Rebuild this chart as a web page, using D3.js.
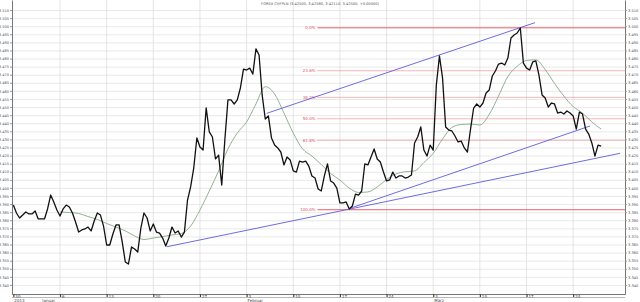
<!DOCTYPE html>
<html>
<head>
  <meta charset="utf-8"/>
  <title>FOREX CHFPLN</title>
  <script src="https://d3js.org/d3.v7.min.js"></script>
  <style>
    html, body {
      margin: 0;
      padding: 0;
      background: #fff;
      overflow: hidden;
    }
    svg {
      display: block;
      font-family: "DejaVu Sans", sans-serif;
    }
  </style>
</head>
<body>
  <div id="chart"></div>

  <script>
    const title = "FOREX CHFPLN (3.42500, 3.42580, 3.42110, 3.42500, +0.00000)";

    // x runs in trading days from Mon 30 Dec 2013 (day 0), 3 bars per day
    const barsPerDay = 3;
    const prices = [
      3.3894, 3.3845, 3.3814, 3.3832, 3.3851, 3.3839, 3.3839, 3.3857, 3.3808, 3.3808,
      3.3808, 3.3870, 3.3956, 3.3913, 3.3863, 3.3826, 3.3870, 3.3894, 3.3882, 3.3845,
      3.3789, 3.3727, 3.3740, 3.3746, 3.3758, 3.3734, 3.3795, 3.3845, 3.3832, 3.3764,
      3.3647, 3.3647, 3.3715, 3.3771, 3.3771, 3.3666, 3.3542, 3.3529, 3.3635, 3.3622,
      3.3604, 3.3752, 3.3845, 3.3814, 3.3734, 3.3777, 3.3727, 3.3721, 3.3690, 3.3641,
      3.3690, 3.3758, 3.3721, 3.3734, 3.3696, 3.3727, 3.3925, 3.4006, 3.4123, 3.4309,
      3.4253, 3.4234, 3.4495, 3.4346, 3.4315, 3.4179, 3.4203, 3.4018, 3.4296, 3.4544,
      3.4544, 3.4519, 3.4544, 3.4618, 3.4735, 3.4729, 3.4741, 3.4704, 3.4860, 3.4822,
      3.4575, 3.4426, 3.4445, 3.4309, 3.4265, 3.4247, 3.4222, 3.4142, 3.4191, 3.4173,
      3.4105, 3.4098, 3.4166, 3.4160, 3.4166, 3.4135, 3.4074, 3.4061, 3.3993, 3.3981,
      3.4074, 3.4148, 3.4043, 3.4030, 3.3999, 3.3907, 3.3907, 3.3913, 3.3870, 3.3888,
      3.3962, 3.3956, 3.3981, 3.4148, 3.4142, 3.4191, 3.4241, 3.4179, 3.4160, 3.4098,
      3.4043, 3.4049, 3.4098, 3.4061, 3.4074, 3.4074, 3.4061, 3.4067, 3.4080, 3.4278,
      3.4315, 3.4377, 3.4234, 3.4197, 3.4265, 3.4234, 3.4636, 3.4816, 3.4680, 3.4377,
      3.4358, 3.4352, 3.4321, 3.4284, 3.4290, 3.4247, 3.4222, 3.4364, 3.4494, 3.4519,
      3.4500, 3.4525, 3.4587, 3.4605, 3.4692, 3.4723, 3.4766, 3.4772, 3.4760, 3.4803,
      3.4927, 3.4946, 3.4958, 3.4989, 3.4772, 3.4741, 3.4729, 3.4779, 3.4785, 3.4698,
      3.4575, 3.4556, 3.4500, 3.4525, 3.4519, 3.4463, 3.4469, 3.4457, 3.4476, 3.4463,
      3.4445, 3.4364, 3.4469, 3.4457, 3.4364, 3.4333, 3.4278, 3.4197, 3.4265, 3.4259
    ];

    // moving average, one value per trading day starting at day 5
    const maStart = 5;
    const maValues = [
      3.3851, 3.3848, 3.3842, 3.3823, 3.3805, 3.3780, 3.3758, 3.3734, 3.3703, 3.3681,
      3.3690, 3.3699, 3.3709, 3.3718, 3.3764, 3.3863, 3.3981, 3.4105, 3.4241, 3.4339,
      3.4408, 3.4519, 3.4626, 3.4581, 3.4463, 3.4339, 3.4241, 3.4197, 3.4145, 3.4089,
      3.4049, 3.3999, 3.3972, 3.3975, 3.4006, 3.4052, 3.4086, 3.4100, 3.4105, 3.4157,
      3.4214, 3.4302, 3.4374, 3.4392, 3.4395, 3.4389, 3.4454, 3.4568, 3.4689, 3.4752,
      3.4788, 3.4792, 3.4732, 3.4646, 3.4568, 3.4503, 3.4463, 3.4408, 3.4364
    ];

    // trend lines (day, price) -> (day, price)
    const trendLines = [
      { d1: 16.44, p1: 3.3636, d2: 65.02, p2: 3.4214 },
      { d1: 36.08, p1: 3.3874, d2: 61.81, p2: 3.4383 },
      { d1: 27.15, p1: 3.4461, d2: 55.91, p2: 3.5022 }
    ];

    // fibonacci retracement
    const fibHigh = 3.4990;
    const fibLow = 3.3865;
    const fibStartDay = 32.6;
    const fibLevels = [0, 0.236, 0.382, 0.5, 0.618, 1];
    const fibLabels = ["0.0%", "23.6%", "38.2%", "50.0%", "61.8%", "100.0%"];

    // axes
    const weekTicks = [0, 5, 10, 15, 20, 25, 30, 35, 40, 45, 50, 55, 60];
    const weekLabels = ["30", "6", "13", "20", "27", "3", "10", "17", "24", "3", "10", "17", "24"];
    const monthTicks = [0, 3, 25, 45];
    const monthLabels = ["2013", "Januar", "Februar", "März"];
    const yTicks = d3.range(3.340, 3.5101, 0.005);

    const width = 640, height = 302;
    const plot = { left: 12, right: 625, top: 0, bottom: 294 };

    const svg = d3.select("#chart").append("svg")
      .attr("width", width)
      .attr("height", height);

    const x = d3.scaleLinear().domain([-0.145, 65.555]).range([plot.left, plot.right]);
    const y = d3.scaleLinear().domain([3.3344, 3.5162]).range([plot.bottom, plot.top]);

    // grid
    svg.append("g").selectAll("line")
      .data(yTicks)
      .enter().append("line")
      .attr("x1", plot.left).attr("x2", plot.right)
      .attr("y1", d => y(d) + 0.5).attr("y2", d => y(d) + 0.5)
      .attr("stroke", "#e3e3e3")
      .attr("stroke-width", 0.8);

    svg.append("g").selectAll("line")
      .data(weekTicks.slice(1))
      .enter().append("line")
      .attr("x1", d => x(d)).attr("x2", d => x(d))
      .attr("y1", plot.top).attr("y2", plot.bottom)
      .attr("stroke", "#dedede")
      .attr("stroke-width", 0.8);

    // title
    svg.append("text")
      .attr("x", 320).attr("y", 5)
      .attr("text-anchor", "middle")
      .attr("font-size", 3.6)
      .attr("fill", "#555")
      .text(title);

    // y axes on both sides
    const fmt = d3.format(".3f");
    const leftAxis = svg.append("g")
      .attr("transform", `translate(${plot.left},0)`)
      .call(d3.axisLeft(y).tickValues(yTicks).tickSize(2).tickSizeOuter(0).tickPadding(1).tickFormat(fmt));
    const rightAxis = svg.append("g")
      .attr("transform", `translate(${plot.right},0)`)
      .call(d3.axisRight(y).tickValues(yTicks).tickSize(2).tickSizeOuter(0).tickPadding(1).tickFormat(fmt));
    [leftAxis, rightAxis].forEach(g => {
      g.attr("font-size", 3.6).attr("font-family", null);
      g.select(".domain").attr("stroke", "#777").attr("stroke-width", 1);
      g.selectAll(".tick line").attr("stroke", "#999");
      g.selectAll(".tick text").attr("fill", "#555");
    });

    // bottom axis
    const bottomAxis = svg.append("g")
      .attr("transform", `translate(0,${plot.bottom})`)
      .call(d3.axisBottom(x).tickValues(weekTicks).tickSize(3).tickSizeOuter(0)
        .tickFormat((d, i) => weekLabels[i]));
    bottomAxis.attr("font-size", 4).attr("font-family", null);
    bottomAxis.select(".domain").attr("stroke", "#777");
    bottomAxis.selectAll(".tick line").attr("stroke", "#444").attr("stroke-width", 1.2);
    bottomAxis.selectAll(".tick text")
      .attr("text-anchor", "start")
      .attr("dx", 1.5)
      .attr("y", 0.5)
      .attr("dy", "0.9em")
      .attr("fill", "#333");

    svg.append("line")
      .attr("x1", plot.left).attr("x2", plot.right)
      .attr("y1", plot.bottom + 3.5).attr("y2", plot.bottom + 3.5)
      .attr("stroke", "#888").attr("stroke-width", 0.6);

    svg.append("g").selectAll("text")
      .data(monthTicks)
      .enter().append("text")
      .attr("x", d => x(d) + 1)
      .attr("y", plot.bottom + 8)
      .attr("font-size", 4)
      .attr("fill", "#444")
      .text((d, i) => monthLabels[i]);

    // fibonacci levels
    const fibPrice = r => fibHigh - r * (fibHigh - fibLow);
    const fib = svg.append("g");
    fib.selectAll("line")
      .data(fibLevels)
      .enter().append("line")
      .attr("x1", x(fibStartDay)).attr("x2", plot.right)
      .attr("y1", d => y(fibPrice(d))).attr("y2", d => y(fibPrice(d)))
      .attr("stroke", "#e5606a")
      .attr("stroke-width", d => (d === 0 || d === 1) ? 1 : 0.9)
      .attr("stroke-dasharray", d => (d === 0 || d === 1) ? null : "1,1");
    fib.selectAll("text")
      .data(fibLevels)
      .enter().append("text")
      .attr("x", x(fibStartDay) - 2)
      .attr("y", d => y(fibPrice(d)))
      .attr("dy", "0.35em")
      .attr("text-anchor", "end")
      .attr("font-size", 4)
      .attr("fill", "#e0505a")
      .text((d, i) => fibLabels[i]);

    // moving average
    svg.append("path")
      .datum(maValues)
      .attr("fill", "none")
      .attr("stroke", "#86a886")
      .attr("stroke-width", 0.9)
      .attr("d", d3.line()
        .curve(d3.curveMonotoneX)
        .x((d, i) => x(maStart + i))
        .y(d => y(d)));

    // trend lines
    svg.append("g").selectAll("line")
      .data(trendLines)
      .enter().append("line")
      .attr("x1", d => x(d.d1)).attr("y1", d => y(d.p1))
      .attr("x2", d => x(d.d2)).attr("y2", d => y(d.p2))
      .attr("stroke", "#5c5cdc")
      .attr("stroke-width", 0.9);

    // price
    svg.append("path")
      .datum(prices)
      .attr("fill", "none")
      .attr("stroke", "#111")
      .attr("stroke-width", 1.3)
      .attr("stroke-linejoin", "round")
      .attr("d", d3.line()
        .x((d, i) => x(i / barsPerDay))
        .y(d => y(d)));
  </script>
</body>
</html>
